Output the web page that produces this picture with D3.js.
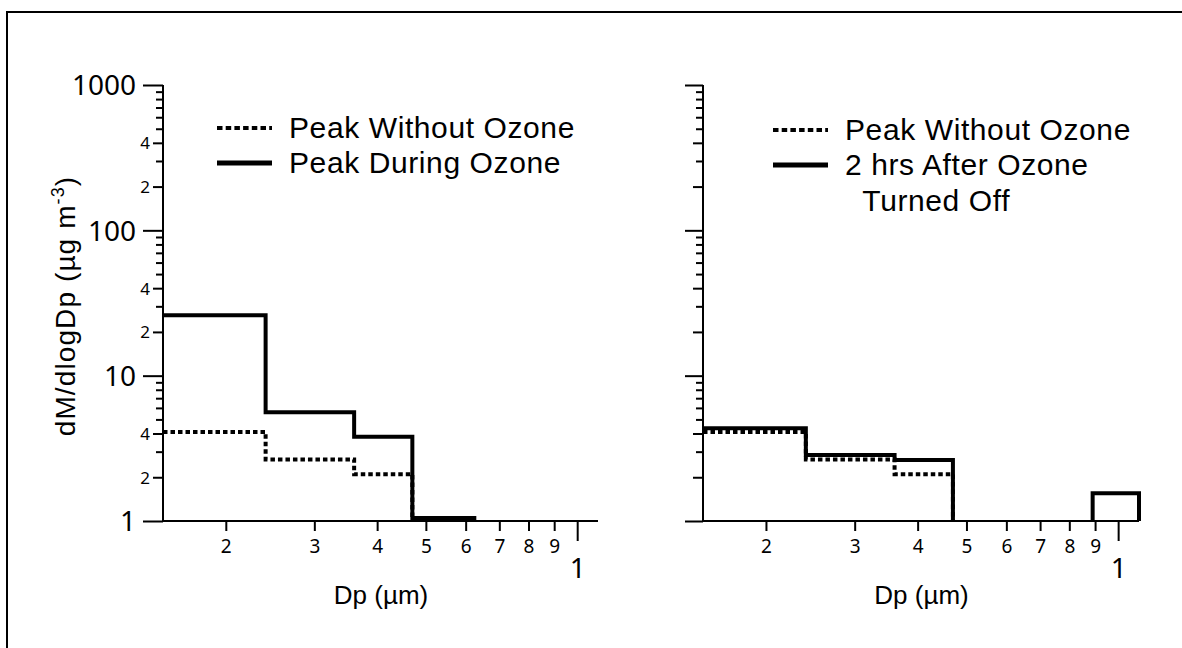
<!DOCTYPE html>
<html>
<head>
<meta charset="utf-8">
<script src="https://cdn.jsdelivr.net/npm/d3@7"></script>
<style>
  html, body { margin:0; background:#fff; overflow:hidden; }
  svg { display:block; }
  svg text { fill:#000; }
</style>
</head>
<body>
<div id="chart"></div>
<script>
// bin edges (um) and dM/dlogDp values per bin, 0 = below the axis
var binEdges = [0.15, 0.24, 0.36, 0.47, 0.63, 0.89, 1.1];
var peakWithout = [4.1, 2.65, 2.1, 0];
var peakDuring = [26, 5.6, 3.8, 1.05];
var afterOff = [4.35, 2.85, 2.63, 0, 0, 1.55];

var xTicks = [0.2, 0.3, 0.4, 0.5, 0.6, 0.7, 0.8, 0.9, 1];
var xTickLabels = ["2", "3", "4", "5", "6", "7", "8", "9", "1"];
var yMajor = [1, 10, 100, 1000];
var yLabeledMinor = [2, 4, 20, 40, 200, 400];

var W = 1182, H = 648;
var svg = d3.select("#chart").append("svg")
    .attr("width", W).attr("height", H);

// frame: only top and left edges are inside the picture
svg.append("path")
    .attr("d", "M7," + (H + 10) + "V12H" + (W + 10))
    .attr("fill", "none").attr("stroke", "#000").attr("stroke-width", 2);

var y = d3.scaleLog().domain([1, 1000]).range([521, 85]);
var yTicks = [];
for (var d = 1; d < 1000; d *= 10) {
  for (var k = 1; k < 10; k++) yTicks.push(d * k);
}
yTicks.push(1000);

function isMajor(v) { return yMajor.indexOf(v) >= 0; }
function isLabeledMinor(v) { return yLabeledMinor.indexOf(v) >= 0; }

var textFont = "'Liberation Sans', Arial, sans-serif";
var tickFont = "'Noto Sans', sans-serif";

var panels = [
  { x0: 163, x1: 598, labels: true, series: [
      { data: peakWithout, dash: true },
      { data: peakDuring, dash: false } ],
    legend: [ { text: ["Peak Without Ozone"], dash: true },
              { text: ["Peak During Ozone"], dash: false } ],
    legX: 217, legY: 128 },
  { x0: 703, x1: 1139, labels: false, series: [
      { data: peakWithout, dash: true },
      { data: afterOff, dash: false } ],
    legend: [ { text: ["Peak Without Ozone"], dash: true },
              { text: ["2 hrs After Ozone", "  Turned Off"], dash: false } ],
    legX: 773, legY: 130 }
];

panels.forEach(function(p, pi) {
  var x = d3.scaleLog().domain([0.15, 1.1]).range([p.x0, p.x1]);
  var g = svg.append("g");

  // clip for data below the axis
  svg.append("clipPath").attr("id", "clip" + pi)
    .append("rect")
    .attr("x", p.x0).attr("y", 60)
    .attr("width", p.x1 - p.x0 + 10).attr("height", 521 - 60);

  // y axis
  var yAxis = d3.axisLeft(y).tickValues(yTicks)
    .tickFormat(function(v) {
      if (!p.labels) return "";
      if (isMajor(v)) return String(v);
      if (isLabeledMinor(v)) return String(v).charAt(0);
      return "";
    });
  var ya = g.append("g").attr("transform", "translate(" + p.x0 + ",0)").call(yAxis);
  ya.select(".domain").attr("stroke-width", 2).attr("d", "M0,85V521");
  ya.selectAll(".tick line")
    .attr("stroke-width", 2)
    .attr("x2", function(v) { return isMajor(v) ? (p.labels ? -20 : -18) : (isLabeledMinor(v) ? -10 : -7); });
  ya.selectAll(".tick text")
    .attr("x", function(v) { return isMajor(v) ? -27 : -13; })
    .attr("dy", "0.35em")
    .style("font-family", tickFont)
    .style("font-size", function(v) { return isMajor(v) ? "28px" : "17px"; });

  // x axis
  var xAxis = d3.axisBottom(x).tickValues(xTicks)
    .tickFormat(function(v, i) { return xTickLabels[i]; });
  var xa = g.append("g").attr("transform", "translate(0,521)").call(xAxis);
  xa.select(".domain").attr("stroke-width", 2).attr("d", "M" + p.x0 + ",0H" + p.x1);
  xa.selectAll(".tick line").attr("stroke-width", 2)
    .attr("y2", function(v) { return v === 1 ? 20 : 10; });
  xa.selectAll(".tick text")
    .attr("y", function(v) { return v === 1 ? 57 : 32; })
    .attr("dy", "0")
    .style("font-family", tickFont)
    .style("font-size", function(v) { return v === 1 ? "28px" : "19px"; });

  // x title
  g.append("text")
    .attr("x", (x(0.2) + x(0.9)) / 2 - 9).attr("y", 604)
    .attr("text-anchor", "middle")
    .style("font-family", textFont)
    .style("font-size", "26px")
    .text("Dp (µm)");

  // step lines
  var line = d3.line().x(function(d) { return d[0]; }).y(function(d) { return d[1]; });
  var data_g = g.append("g").attr("clip-path", "url(#clip" + pi + ")");
  p.series.forEach(function(s) {
    var pts = [];
    s.data.forEach(function(v, i) {
      var yy = v > 0 ? y(v) : 560;
      pts.push([x(binEdges[i]), yy]);
      pts.push([x(binEdges[i + 1]), yy]);
    });
    var last = s.data[s.data.length - 1];
    if (last > 0 && s.data.length === binEdges.length - 1) {
      pts.push([x(binEdges[binEdges.length - 1]), 560]);
    }
    data_g.append("path")
      .attr("d", line(pts))
      .attr("fill", "none")
      .attr("stroke", "#000")
      .attr("stroke-width", 4)
      .attr("stroke-linejoin", "miter")
      .attr("stroke-dasharray", s.dash ? "4.5,3" : null);
  });

  // legend
  var ly = p.legY;
  p.legend.forEach(function(l) {
    g.append("line")
      .attr("x1", p.legX).attr("x2", p.legX + 55)
      .attr("y1", ly).attr("y2", ly)
      .attr("stroke", "#000")
      .attr("stroke-width", l.dash ? 4 : 5)
      .attr("stroke-dasharray", l.dash ? "5.5,3.2" : null);
    l.text.forEach(function(t, j) {
      g.append("text")
        .attr("x", p.legX + 72).attr("y", ly + 10 + j * 36)
        .attr("xml:space", "preserve")
        .style("white-space", "pre")
        .style("font-family", textFont)
        .style("font-size", "30px")
        .style("letter-spacing", "0.6px")
        .text(t);
    });
    ly += 35;
  });
});

// y title
var yt = svg.append("text")
  .attr("transform", "translate(75,306) rotate(-90)")
  .attr("text-anchor", "middle")
  .style("font-family", textFont)
  .style("font-size", "28px")
  .style("letter-spacing", "1.1px");
yt.append("tspan").text("dM/dlogDp (µg m");
yt.append("tspan").attr("dy", -11).style("font-size", "18px").text("-3");
yt.append("tspan").attr("dy", 11).text(")");
</script>
</body>
</html>
